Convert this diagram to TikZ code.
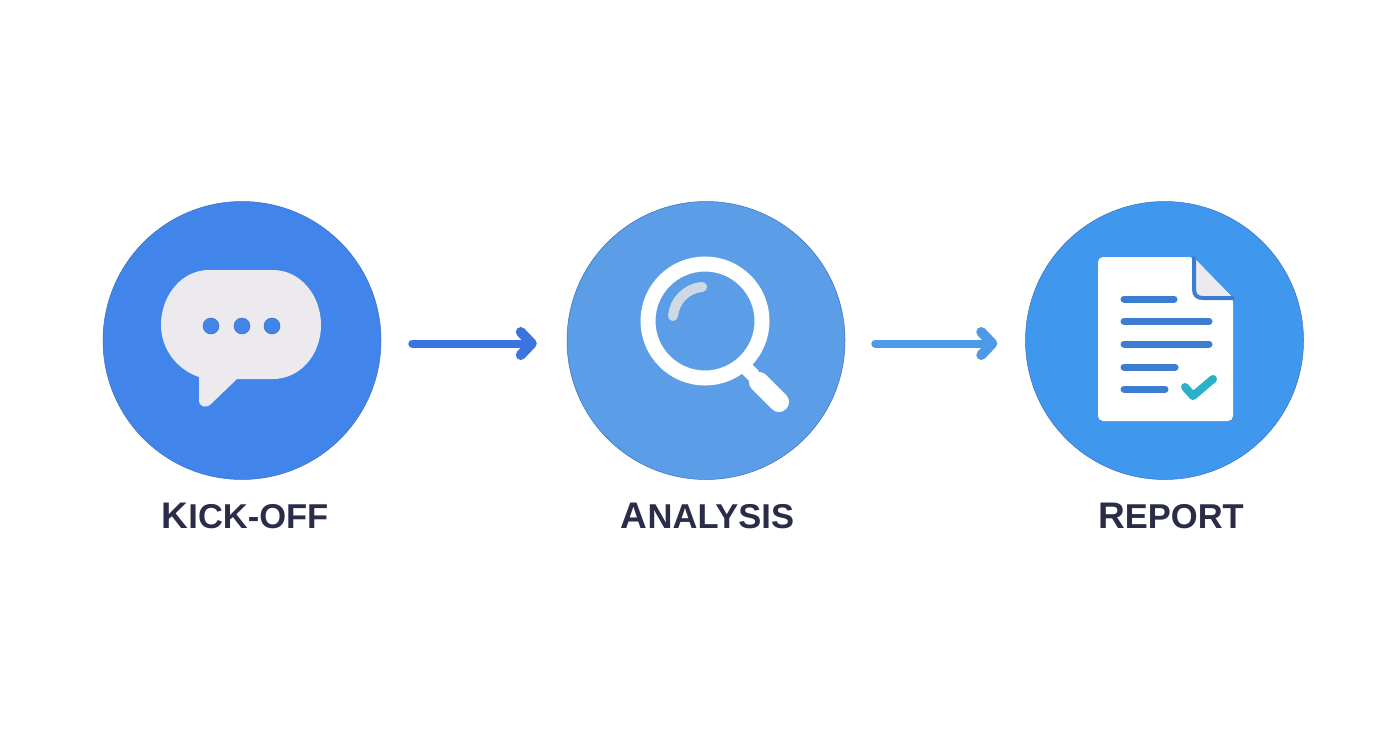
\documentclass[tikz,border=0pt]{standalone}
\usepackage{fontspec}
\setmainfont{Liberation Sans}
\usetikzlibrary{arrows.meta}
\definecolor{kickColor}{RGB}{66, 133, 234}
\definecolor{analysisColor}{RGB}{91, 157, 230}
\definecolor{reportColor}{RGB}{63, 151, 238}
\definecolor{edgeColor}{RGB}{62, 110, 190}
\definecolor{bubbleColor}{RGB}{236, 234, 238}
\definecolor{arrowOneColor}{RGB}{59, 116, 224}
\definecolor{arrowTwoColor}{RGB}{79, 154, 232}
\definecolor{lineColor}{RGB}{59, 125, 208}
\definecolor{checkColor}{RGB}{43, 176, 201}
\definecolor{glareColor}{RGB}{207, 217, 230}
\definecolor{labelColor}{RGB}{43, 45, 72}
\newcommand{\stepName}[2]{#1{\fontsize{34.5}{36}\selectfont #2}}
\tikzset{
    stepCircle/.style={circle, minimum size=278pt, inner sep=0pt, draw=edgeColor, line width=0.5pt},
    stepLabel/.style={anchor=base, inner sep=0pt, text=labelColor, font=\fontsize{37}{40}\bfseries},
    flowArrow/.style={line width=8pt, line cap=round, -{Straight Barb[round, length=11pt, width=23pt, line width=10pt]}},
    docLine/.style={line width=7pt, line cap=round, draw=lineColor}
}
\begin{document}
\begin{tikzpicture}[x=1pt, y=-1pt]
    \useasboundingbox (0,0) rectangle (1392,752);
    \fill[white] (0,0) rectangle (1392,752);

    % Step circles
    \node[stepCircle, fill=kickColor] (kickoff) at (242,340.5) {};
    \node[stepCircle, fill=analysisColor] (analysis) at (706,340.5) {};
    \node[stepCircle, fill=reportColor] (report) at (1164.5,340.5) {};

    % Step labels
    \node[stepLabel] (kickoffLabel) at (245,528) {\stepName{K}{ICK-OFF}};
    \node[stepLabel] (analysisLabel) at (707.5,528) {\stepName{A}{NALYSIS}};
    \node[stepLabel] (reportLabel) at (1171,528) {\stepName{R}{EPORT}};

    % Arrows between steps
    \draw[flowArrow, draw=arrowOneColor, shorten <=31pt, shorten >=30pt]
        ([yshift=-3pt]kickoff.east) -- ([yshift=-3pt]analysis.west);
    \draw[flowArrow, draw=arrowTwoColor, shorten <=30pt, shorten >=28pt]
        ([yshift=-3pt]analysis.east) -- ([yshift=-3pt]report.west);

    % Speech bubble
    \fill[bubbleColor] (209,270) -- (273,270)
        .. controls (300,270) and (321,295) .. (321,325)
        .. controls (321,355) and (300,379) .. (273,379)
        -- (237,379) -- (211,404)
        .. controls (206,409) and (199,407) .. (199,400)
        -- (199,377)
        .. controls (178,370) and (161,350) .. (161,325)
        .. controls (161,295) and (182,270) .. (209,270) -- cycle;
    \foreach \dotX in {211,242,272}
        \filldraw[fill=kickColor, draw=edgeColor, line width=0.5pt] (\dotX,326) circle[radius=8pt];

    % Magnifying glass
    \draw[white, line width=14pt] (742,364) -- (754,376);
    \draw[white, line width=20pt, line cap=round] (759,382) -- (779,402);
    \draw[white, line width=15pt] (705,321) circle[radius=57pt];
    \draw[glareColor, line width=10pt, line cap=round]
        (673,316) arc[start angle=175, end angle=95, radius=32pt];

    % Report sheet
    \fill[white, rounded corners=5pt] (1098,257) -- (1193,257) -- (1233,298)
        -- (1233,421) -- (1098,421) -- cycle;
    \fill[bubbleColor] (1194,258) -- (1233,298) -- (1203,298)
        .. controls (1197,298) and (1194,295) .. (1194,289) -- cycle;
    \draw[lineColor, line width=4pt, line cap=round]
        (1194,258) -- (1194,289)
        .. controls (1194,295) and (1197,298) .. (1203,298) -- (1233,298);

    % Text lines on the sheet
    \foreach \lineY/\lineEnd in {299/1174,321/1209,344/1209,367/1175,389/1165}
        \draw[docLine] (1124,\lineY) -- (\lineEnd,\lineY);
    \draw[checkColor, line width=8pt, line cap=round, line join=round]
        (1185,387) -- (1193,396) -- (1213,379);
\end{tikzpicture}
\end{document}
